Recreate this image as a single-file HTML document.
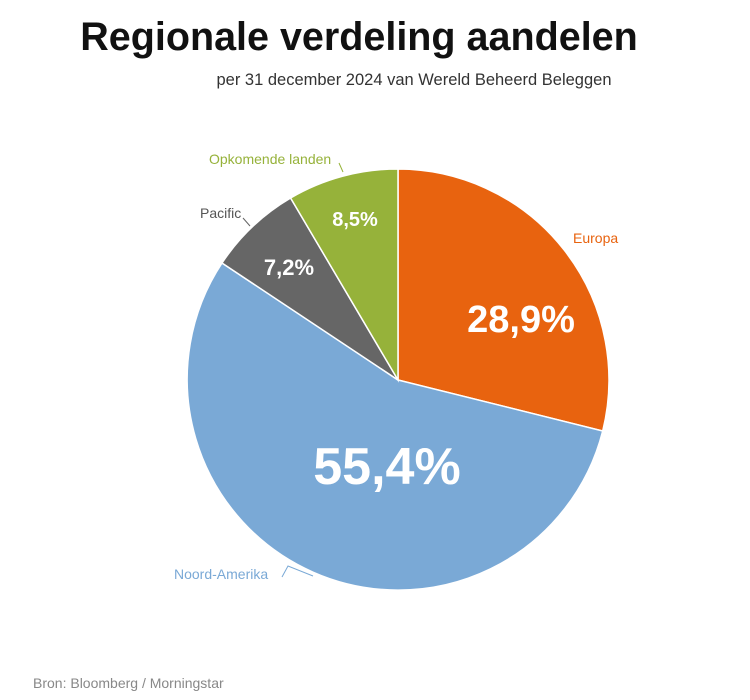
<!DOCTYPE html>
<html><head><meta charset="utf-8"><style>
html,body{margin:0;padding:0;background:#fff;}
svg{display:block;font-family:"Liberation Sans","DejaVu Sans",sans-serif;}
</style></head><body>
<svg width="750" height="700" viewBox="0 0 750 700">
<text x="359" y="50" text-anchor="middle" font-size="39.5" font-weight="bold" fill="#111">Regionale verdeling aandelen</text>
<text x="414" y="85" text-anchor="middle" font-size="16.5" fill="#333">per 31 december 2024 van Wereld Beheerd Beleggen</text>
<g stroke="#fff" stroke-width="1.5">
<path d="M398,380 L398,169 A211,211 0 0,1 602.7,431 Z" fill="#e8630f"/>
<path d="M398,380 L602.7,431 A211,211 0 1,1 222,263 Z" fill="#7aa9d6"/>
<path d="M398,380 L222,263 A211,211 0 0,1 290.6,198 Z" fill="#666666"/>
<path d="M398,380 L290.6,198 A211,211 0 0,1 398,169 Z" fill="#96b23a"/>
</g>
<g fill="#fff" font-weight="bold" text-anchor="middle">
<text x="521" y="332" font-size="38">28,9%</text>
<text x="387" y="484" font-size="52">55,4%</text>
<text x="289" y="275" font-size="22">7,2%</text>
<text x="355" y="226" font-size="20">8,5%</text>
</g>
<g fill="none" stroke-width="1">
<path d="M282,577 L288,566 L313,576" stroke="#7aa9d6"/>
<path d="M243,218 L250,226" stroke="#666"/>
<path d="M339,163 L343,172" stroke="#96b23a"/>
</g>
<text x="573" y="243" font-size="14" fill="#e8630f">Europa</text>
<text x="174" y="579" font-size="14" fill="#7aa9d6">Noord-Amerika</text>
<text x="200" y="218" font-size="14" fill="#555">Pacific</text>
<text x="209" y="164" font-size="14" fill="#96b23a">Opkomende landen</text>
<text x="33" y="688" font-size="14" fill="#888">Bron: Bloomberg / Morningstar</text>
</svg>
</body></html>
